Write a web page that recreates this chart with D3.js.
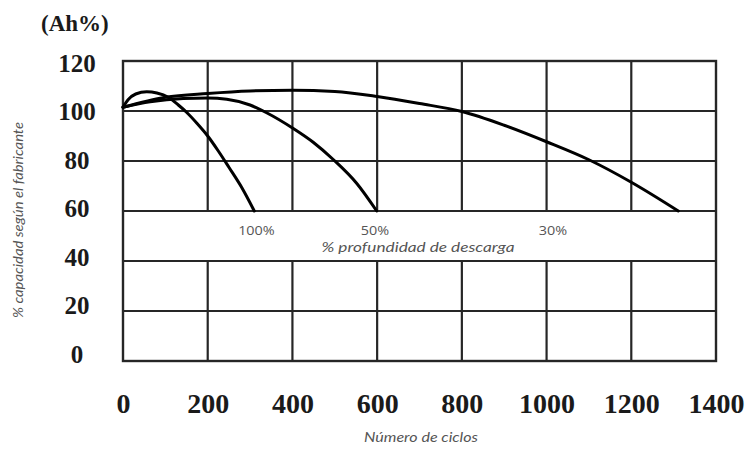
<!DOCTYPE html>
<html>
<head>
<meta charset="utf-8">
<script src="https://cdn.jsdelivr.net/npm/d3@7/dist/d3.min.js"></script>
<style>
  html, body { margin: 0; padding: 0; background: #fff; }
  svg { display: block; }
</style>
</head>
<body>
<svg id="chart" width="746" height="450"></svg>
<script>
// ---- data ----
const xTicks = [0, 200, 400, 600, 800, 1000, 1200, 1400];
const yTicks = [0, 20, 40, 60, 80, 100, 120];

const cycles100 = [0, 12, 30, 56, 80, 107, 130, 150, 175, 200, 225, 250, 280, 310];
const cap100    = [101.5, 104.5, 106.8, 107.7, 107.2, 105.5, 102.5, 99.5, 95, 90, 84, 77.5, 69.5, 60];

const cycles50 = [0, 64, 142, 200, 245, 300, 339, 402, 449, 497, 552, 599];
const cap50    = [101.5, 103.7, 105, 105.2, 104.7, 102.4, 99.3, 93, 87.5, 80.5, 71, 60];

const cycles30 = [0, 100, 200, 300, 400, 500, 600, 700, 800, 900, 1000, 1100, 1200, 1311];
const cap30    = [101.5, 105.5, 107, 108, 108.3, 107.8, 105.8, 103, 99.8, 94.3, 87.7, 80.5, 71.5, 60];

const depthLabels = ["100%", "50%", "30%"];
const depthLabelX = [315, 595, 1015];

// ---- layout ----
const svg = d3.select("#chart");
const x = d3.scaleLinear().domain([0, 1400]).range([123, 716]);
const y = d3.scaleLinear().domain([0, 120]).range([361, 61]);
const yLab = d3.scaleLinear().domain([0, 120]).range([354, 63]); // tick text centres
const gridColor = "#262626";

// horizontal grid lines
svg.append("g").selectAll("line").data(yTicks).join("line")
  .attr("x1", x(0)).attr("x2", x(1400))
  .attr("y1", d => y(d)).attr("y2", d => y(d))
  .attr("stroke", gridColor).attr("stroke-width", 2.2);

// vertical grid lines (interrupted by the label band 40–60)
const vInner = xTicks.slice(1, -1);
const vg = svg.append("g");
vg.selectAll("line.top").data(vInner).join("line").attr("class", "top")
  .attr("x1", d => x(d)).attr("x2", d => x(d))
  .attr("y1", y(120)).attr("y2", y(60))
  .attr("stroke", gridColor).attr("stroke-width", 2.2);
vg.selectAll("line.bot").data(vInner).join("line").attr("class", "bot")
  .attr("x1", d => x(d)).attr("x2", d => x(d))
  .attr("y1", y(40)).attr("y2", y(0))
  .attr("stroke", gridColor).attr("stroke-width", 2.2);
// outer border
svg.append("rect")
  .attr("x", x(0)).attr("y", y(120))
  .attr("width", x(1400) - x(0)).attr("height", y(0) - y(120))
  .attr("fill", "none").attr("stroke", gridColor).attr("stroke-width", 2.4);

// curves
const line = d3.line().x(d => x(d[0])).y(d => y(d[1])).curve(d3.curveMonotoneX);
const series = [
  d3.zip(cycles100, cap100),
  d3.zip(cycles50, cap50),
  d3.zip(cycles30, cap30)
];
svg.append("g").selectAll("path").data(series).join("path")
  .attr("d", line)
  .attr("fill", "none").attr("stroke", "#000").attr("stroke-width", 3)
  .attr("stroke-linecap", "round");

// tick labels
const serif = "'Liberation Serif', 'Times New Roman', serif";
svg.append("g").selectAll("text").data(yTicks).join("text")
  .attr("x", 77).attr("y", d => yLab(d)).attr("dy", "0.35em")
  .attr("text-anchor", "middle")
  .attr("font-family", serif).attr("font-weight", "bold")
  .attr("font-size", 25).attr("fill", "#1a1a1a")
  .text(d3.format("d"));

const xAxis = svg.append("g").attr("transform", `translate(0,${403})`)
  .call(d3.axisBottom(x).tickValues(xTicks).tickFormat(d3.format("d")).tickSize(0).tickPadding(0));
xAxis.select(".domain").remove();
xAxis.selectAll("text")
  .attr("font-family", serif)
  .attr("font-weight", "bold").attr("font-size", 28).attr("fill", "#1a1a1a")
  .attr("dy", "0.35em").attr("y", 0);

// unit label
svg.append("text").attr("x", 41).attr("y", 31)
  .attr("font-family", serif)
  .attr("font-weight", "bold").attr("font-size", 23).attr("fill", "#1a1a1a")
  .text("(Ah%)");

// axis titles
const sansItalic = "Lato, 'Open Sans', sans-serif";
svg.append("text")
  .attr("transform", `translate(23,220) rotate(-90)`)
  .attr("text-anchor", "middle")
  .attr("font-family", sansItalic).attr("font-style", "italic")
  .attr("font-size", 12.5).attr("fill", "#555")
  .attr("textLength", 196).attr("lengthAdjust", "spacingAndGlyphs")
  .text("% capacidad según el fabricante");

svg.append("text").attr("x", 421).attr("y", 442)
  .attr("text-anchor", "middle")
  .attr("font-family", sansItalic).attr("font-style", "italic")
  .attr("font-size", 13).attr("fill", "#555")
  .attr("textLength", 114).attr("lengthAdjust", "spacingAndGlyphs")
  .text("Número de ciclos");

// depth-of-discharge band labels
svg.append("g").selectAll("text").data(depthLabels).join("text")
  .attr("transform", (d, i) => `translate(${x(depthLabelX[i])},235) scale(1.2,1)`)
  .attr("text-anchor", "middle")
  .attr("font-family", "'Open Sans', sans-serif")
  .attr("font-size", 12).attr("fill", "#555")
  .text(d => d);

svg.append("text").attr("x", 418).attr("y", 252)
  .attr("text-anchor", "middle")
  .attr("font-family", sansItalic).attr("font-style", "italic")
  .attr("font-size", 13).attr("fill", "#555")
  .attr("textLength", 193).attr("lengthAdjust", "spacingAndGlyphs")
  .text("% profundidad  de descarga");
</script>
</body>
</html>
